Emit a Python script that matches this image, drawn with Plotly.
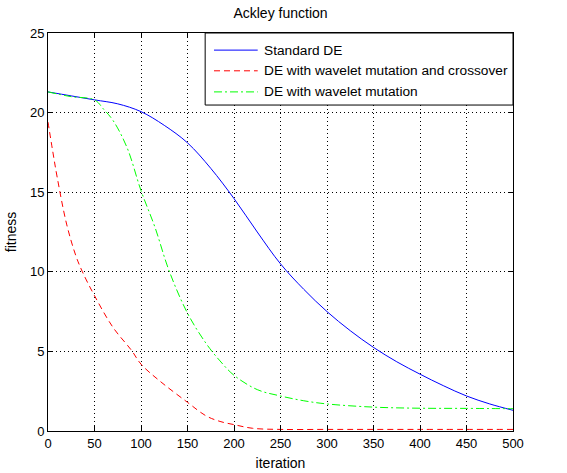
import plotly.graph_objects as go

# Standard DE
std_x = [0, 25, 50, 75, 100, 125, 150, 175, 200, 225, 250, 275, 300, 325, 350, 375, 400, 425, 450, 475, 500]
std_y = [21.3, 21.05, 20.8, 20.55, 20.06, 19.2, 18.1, 16.5, 14.6, 12.5, 10.5, 8.9, 7.5, 6.3, 5.25, 4.35, 3.57, 2.85, 2.2, 1.7, 1.3]

# DE with wavelet mutation and crossover
wmc_x = [0, 5, 10, 20, 30, 37, 50, 70, 90, 100, 120, 150, 170, 185, 200, 220, 250, 300, 400, 500]
wmc_y = [19.4, 17.6, 15.9, 13.0, 11.0, 10.0, 8.5, 6.5, 5.05, 4.2, 3.15, 1.8, 0.95, 0.6, 0.4, 0.17, 0.1, 0.1, 0.1, 0.1]

# DE with wavelet mutation
wm_x = [0, 25, 50, 60, 70, 85, 100, 115, 130, 150, 170, 185, 200, 225, 250, 275, 300, 350, 400, 450, 500]
wm_y = [21.3, 21.0, 20.8, 20.2, 19.5, 17.8, 15.1, 12.8, 10.1, 7.4, 5.5, 4.4, 3.5, 2.6, 2.2, 1.9, 1.7, 1.5, 1.43, 1.42, 1.4]

series_names = ["Standard DE", "DE with wavelet mutation and crossover", "DE with wavelet mutation"]
series_colors = ["#0000ff", "#ff0000", "#00ff00"]
series_dashes = ["solid", "6px,4px", "8px,3px,2px,3px"]

x_ticks = [0, 50, 100, 150, 200, 250, 300, 350, 400, 450, 500]
y_ticks = [0, 5, 10, 15, 20, 25]

FONT = "Liberation Sans, Arial, sans-serif"

fig = go.Figure()
for xs, ys, name, col, dash in zip([std_x, wmc_x, wm_x], [std_y, wmc_y, wm_y],
                                   series_names, series_colors, series_dashes):
    fig.add_trace(go.Scatter(x=xs, y=ys, mode="lines", name=name,
                             line=dict(color=col, width=1, dash=dash, shape="spline")))

axis_common = dict(
    showline=True, linecolor="black", linewidth=1, mirror="ticks",
    ticks="inside", ticklen=5, tickcolor="black",
    showgrid=True, gridcolor="black", griddash="1px,3px", gridwidth=1,
    zeroline=False, automargin=False,
    tickfont=dict(family=FONT, size=13, color="black"),
)

# Legend box drawn in the MATLAB style (box at the top-right corner of the axes)
leg_x0, leg_x1 = 0.338, 1.0
leg_y0, leg_y1 = 0.819, 1.0
row_y = [0.957, 0.905, 0.852]
sample_x0, sample_x1 = 0.357, 0.451
text_x = 0.460

shapes = [dict(type="rect", xref="paper", yref="paper", x0=leg_x0, x1=leg_x1, y0=leg_y0, y1=leg_y1,
               line=dict(color="black", width=1), fillcolor="white", layer="above")]
annotations = []
for ry, name, col, dash in zip(row_y, series_names, series_colors, series_dashes):
    shapes.append(dict(type="line", xref="paper", yref="paper", x0=sample_x0, x1=sample_x1,
                       y0=ry, y1=ry, line=dict(color=col, width=1, dash=dash), layer="above"))
    annotations.append(dict(text=name, xref="paper", yref="paper", x=text_x, y=ry,
                            xanchor="left", yanchor="middle", showarrow=False,
                            font=dict(family=FONT, size=13.7, color="black")))

fig.update_layout(
    width=567, height=473,
    paper_bgcolor="white", plot_bgcolor="white",
    margin=dict(l=48, r=54, t=33, b=42),
    font=dict(family=FONT, size=13, color="black"),
    title=dict(text="Ackley function", x=0.5, xref="paper", xanchor="center",
               y=1, yref="container", yanchor="top", pad=dict(t=8),
               font=dict(family=FONT, size=14, color="black")),
    xaxis=dict(range=[0, 500], tickvals=x_ticks, ticktext=[str(v) for v in x_ticks],
               title=dict(text="iteration", standoff=8, font=dict(family=FONT, size=14)),
               **axis_common),
    yaxis=dict(range=[0, 25], tickvals=y_ticks, ticktext=[str(v) for v in y_ticks],
               title=dict(text="fitness", standoff=10, font=dict(family=FONT, size=14)),
               **axis_common),
    showlegend=False,
    shapes=shapes,
    annotations=annotations,
)

fig.write_html("out.html", config={"displayModeBar": False},
               post_script="document.body.style.margin='0px';")
